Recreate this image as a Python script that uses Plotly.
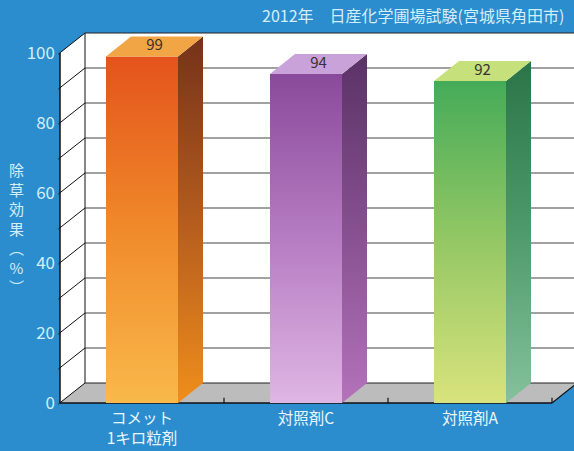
import plotly.graph_objects as go

# ---------------- data ----------------
categories = ["コメット<br>1キロ粒剤", "対照剤C", "対照剤A"]
values = [99, 94, 92]
value_labels = ["99", "94", "92"]
y_ticks = [0, 20, 40, 60, 80, 100]
grid_levels = [0, 10, 20, 30, 40, 50, 60, 70, 80, 90, 100]
title_text = "2012年　日産化学圃場試験(宮城県角田市)"
axis_title = "除<br>草<br>効<br>果<br>︵<br>%<br>︶"

# ---------------- style ----------------
W, H = 574, 451
ML, MR, MT, MB = 50, 0, 0, 44
PX_PER_CAT = 164.0
PX_PER_VAL = 3.5
DX = 25 / PX_PER_CAT          # depth offset (x units)
DY = 20 / PX_PER_VAL          # depth offset (y units)
HALF_W = 36 / PX_PER_CAT      # half bar width
XMIN = -0.5 - 10 / PX_PER_CAT
XMAX = XMIN + (W - ML - MR) / PX_PER_CAT
YMIN = -4 / PX_PER_VAL
YMAX = YMIN + (H - MT - MB) / PX_PER_VAL
BG = "#2b8dce"
FONT = "Noto Sans CJK JP"
LIGHT = "#d4edf9"

front_cols = [("#f9b94b", "#f08a2a", "#e4531c"),
              ("#dfb6e4", "#b67cc2", "#8a4a9b"),
              ("#d9e37d", "#94c865", "#45ab58")]
side_cols = [("#ef8e1c", "#b45c1e", "#74321a"),
             ("#b472bb", "#86508f", "#5a3266"),
             ("#84c29c", "#4f9a6c", "#2a7447")]
top_cols = ["#f1a545", "#c9a2d9", "#c6e07c"]

fig = go.Figure()

x_left = -0.5
x_right = len(categories) - 0.5

shapes = []
# back wall
shapes.append(dict(type="rect", xref="x", yref="y", x0=x_left + DX, x1=x_right + DX,
                   y0=DY, y1=100 + DY, fillcolor="white", line=dict(width=0), layer="below"))
# left wall
shapes.append(dict(type="path", xref="x", yref="y",
                   path=f"M {x_left},0 L {x_left},100 L {x_left+DX},{100+DY} L {x_left+DX},{DY} Z",
                   fillcolor="white", line=dict(width=0), layer="below"))
# floor
shapes.append(dict(type="path", xref="x", yref="y",
                   path=f"M {x_left},0 L {x_right},0 L {x_right+DX},{DY} L {x_left+DX},{DY} Z",
                   fillcolor="#bcbcbc", line=dict(width=0), layer="below"))
# back wall gridlines
for g in grid_levels:
    shapes.append(dict(type="line", xref="x", yref="y", x0=x_left + DX, x1=x_right + DX,
                       y0=g + DY, y1=g + DY,
                       line=dict(color="#444444" if g not in (0, 100) else "#222222", width=1.2),
                       layer="below"))
# diagonal ticks on left wall
for g in grid_levels:
    shapes.append(dict(type="line", xref="x", yref="y", x0=x_left - 0.01, x1=x_left + DX,
                       y0=g - 0.3, y1=g + DY, line=dict(color="#111111", width=1), layer="below"))
# back wall left edge
shapes.append(dict(type="line", xref="x", yref="y", x0=x_left + DX, x1=x_left + DX,
                   y0=DY, y1=100 + DY, line=dict(color="#111111", width=1), layer="below"))
# front axis
shapes.append(dict(type="line", xref="x", yref="y", x0=x_left, x1=x_left,
                   y0=0, y1=100, line=dict(color="#111111", width=1.5), layer="below"))
# floor edges
shapes.append(dict(type="line", xref="x", yref="y", x0=x_left, x1=x_right, y0=0, y1=0,
                   line=dict(color="#111111", width=1.5), layer="below"))
shapes.append(dict(type="line", xref="x", yref="y", x0=x_right, x1=x_right + DX, y0=0, y1=DY,
                   line=dict(color="#111111", width=1.2), layer="below"))
for k in range(1, len(categories) + 1):
    xc = x_left + k
    shapes.append(dict(type="line", xref="x", yref="y", x0=xc, x1=xc, y0=0, y1=1.5,
                       line=dict(color="#111111", width=1.2), layer="below"))

# bars (front, side, top faces)
for i, v in enumerate(values):
    x0, x1 = i - HALF_W, i + HALF_W
    fb, fm, ft = front_cols[i]
    sb, sm, st = side_cols[i]
    fig.add_trace(go.Scatter(
        x=[x0, x1, x1, x0, x0], y=[0, 0, v, v, 0], mode="lines", fill="toself",
        line=dict(width=0), hoverinfo="skip", showlegend=False,
        fillgradient=dict(type="vertical", colorscale=[[0, fb], [0.5, fm], [1, ft]],
                          start=0, stop=v)))
    fig.add_trace(go.Scatter(
        x=[x1, x1 + DX, x1 + DX, x1, x1], y=[0, DY, v + DY, v, 0], mode="lines", fill="toself",
        line=dict(width=0), hoverinfo="skip", showlegend=False,
        fillgradient=dict(type="vertical", colorscale=[[0, sb], [0.5, sm], [1, st]],
                          start=0, stop=v + DY)))
    fig.add_trace(go.Scatter(
        x=[x0, x1, x1 + DX, x0 + DX, x0], y=[v, v, v + DY, v + DY, v], mode="lines",
        fill="toself", fillcolor=top_cols[i],
        line=dict(width=0), hoverinfo="skip", showlegend=False))

# value labels on the top faces
fig.add_trace(go.Scatter(
    x=[i + DX / 2 for i in range(len(values))],
    y=[v + DY / 2 for v in values],
    mode="text", text=value_labels, textposition="middle center",
    textfont=dict(family=FONT, size=15, color="#3a3030"),
    hoverinfo="skip", showlegend=False))


def px_to_paper(px, py):
    return (px - ML) / (W - ML - MR), (H - MB - py) / (H - MT - MB)


annotations = []
tx, ty = px_to_paper(260, 15)
annotations.append(dict(text=title_text, x=tx, y=ty, xref="paper", yref="paper",
                        xanchor="left", yanchor="middle", showarrow=False,
                        font=dict(family=FONT, size=16, color=LIGHT)))
ax_, ay_ = px_to_paper(16, 228)
annotations.append(dict(text=axis_title, x=ax_, y=ay_, xref="paper", yref="paper",
                        xanchor="center", yanchor="middle", showarrow=False,
                        font=dict(family=FONT, size=15, color=LIGHT)))

fig.update_layout(
    width=W, height=H,
    margin=dict(l=ML, r=MR, t=MT, b=MB),
    paper_bgcolor=BG, plot_bgcolor=BG,
    shapes=shapes, annotations=annotations,
    xaxis=dict(range=[XMIN, XMAX], tickvals=list(range(len(categories))), ticktext=categories,
               showgrid=False, zeroline=False, showline=False, ticks="",
               tickfont=dict(family=FONT, size=15.5, color="#eaf6fd"), fixedrange=True),
    yaxis=dict(range=[YMIN, YMAX], tickvals=y_ticks, showgrid=False, zeroline=False,
               showline=False, ticks="", ticklabelstandoff=-6,
               tickfont=dict(family=FONT, size=17, color=LIGHT), fixedrange=True),
)

fig.write_html("out.html", post_script="document.body.style.margin='0';",
               config={"displayModeBar": False})
